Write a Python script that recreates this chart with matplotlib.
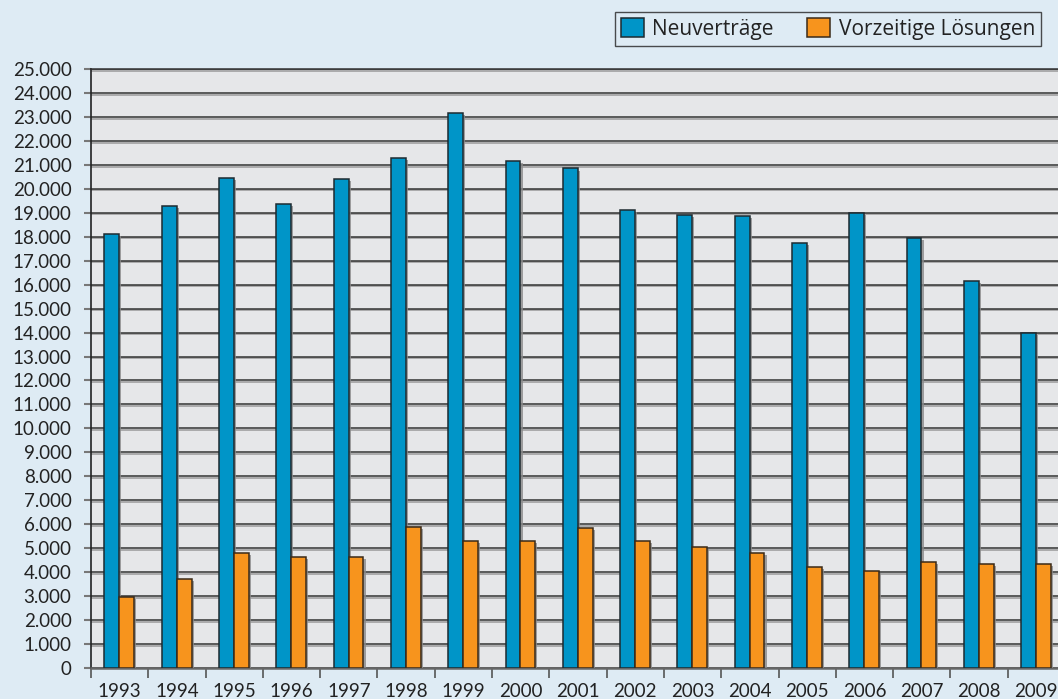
import numpy as np
import matplotlib
matplotlib.use("Agg")
import matplotlib.pyplot as plt
import matplotlib.patheffects as pe

years = ['1993', '1994', '1995', '1996', '1997', '1998', '1999', '2000', '2001',
         '2002', '2003', '2004', '2005', '2006', '2007', '2008', '2009']
neuvertraege = [18100, 19300, 20450, 19350, 20400, 21300, 23150, 21150, 20850,
                19100, 18900, 18850, 17750, 19000, 17930, 16150, 14000]
vorzeitige = [2960, 3700, 4800, 4650, 4650, 5900, 5300, 5300, 5850,
              5300, 5050, 4800, 4200, 4050, 4420, 4350, 4350]
y_ticks = np.arange(0, 25001, 1000)

bg = '#deebf4'
plot_bg = '#e6e7e9'
blue = '#0095c8'
orange = '#f7941d'

fig = plt.figure(figsize=(10.58, 6.99), dpi=100, facecolor=bg)
W, H = 1058, 699
ax = fig.add_axes([91 / W, (H - 668) / H, (1065 - 91) / W, (668 - 69) / H])
ax.set_facecolor(plot_bg)

index = np.arange(len(years))
bar_width = 0.26
shadow = [pe.SimplePatchShadow(offset=(1.5, -1.5), shadow_rgbFace='#8a8a8a', alpha=0.8), pe.Normal()]

b1 = ax.bar(index - 0.135, neuvertraege, bar_width, color=blue, edgecolor='#1e2a30',
            linewidth=1.1, label='Neuverträge', zorder=3)
b2 = ax.bar(index + 0.125, vorzeitige, bar_width, color=orange, edgecolor='#3a2a18',
            linewidth=1.1, label='Vorzeitige Lösungen', zorder=3)
for r in list(b1) + list(b2):
    r.set_path_effects(shadow)

ax.set_xlim(-0.5, len(years) - 0.5)
ax.set_ylim(0, 25000)

# gridlines with a light shadow underneath
ax.set_yticks(y_ticks)
ax.set_yticklabels(['{:,}'.format(v).replace(',', '.') for v in y_ticks],
                   fontsize=13.5, family='Lato', color='#222222')
ax.yaxis.grid(True, color='#333333', linewidth=1.1, zorder=1)
for gl in ax.get_ygridlines():
    gl.set_path_effects([pe.SimpleLineShadow(offset=(0, -1.2), shadow_color='#9a9a9a', alpha=1), pe.Normal()])
ax.set_axisbelow(True)

ax.set_xticks(np.arange(len(years) + 1) - 0.5)
ax.set_xticklabels([])
ax.set_xticks(index, minor=True)
ax.set_xticklabels(years, minor=True, fontsize=13.5, family='Lato', color='#222222')
ax.tick_params(axis='x', which='major', length=7, width=1.2, color='#555555', direction='out')
ax.tick_params(axis='x', which='minor', length=0, pad=11)
ax.tick_params(axis='y', length=5, width=1.5, color='#777777', pad=9)

ax.spines['right'].set_visible(False)
ax.spines['top'].set_color('#333333')
ax.spines['top'].set_linewidth(1.1)
ax.spines['left'].set_color('#222222')
ax.spines['left'].set_linewidth(1.2)
ax.spines['bottom'].set_color('#666666')
ax.spines['bottom'].set_linewidth(1.8)

leg = fig.legend(handles=[b1, b2], loc='upper left', bbox_to_anchor=(615 / W, 1 - 12 / H),
                 ncol=2, prop={'family': 'Open Sans', 'size': 15},
                 frameon=True, fancybox=False, facecolor=bg, edgecolor='#222222',
                 handlelength=1.1, handleheight=1.0, handletextpad=0.4, columnspacing=1.6,
                 borderpad=0.3, borderaxespad=0)
leg.get_frame().set_linewidth(1)
for t in leg.get_texts():
    t.set_color('#222222')
for h in leg.legend_handles:
    h.set_path_effects([])

fig.savefig('out.png', dpi=100, facecolor=bg)
